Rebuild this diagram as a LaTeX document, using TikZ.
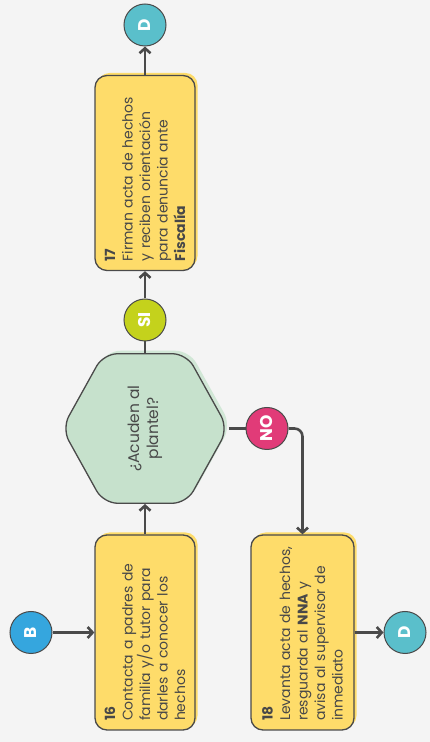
\documentclass[tikz,border=0pt]{standalone}
\usepackage{fontspec}
\setmainfont{Poppins}
\usepackage{xcolor}
\usetikzlibrary{arrows.meta,shapes.geometric,shadows}
\definecolor{bg}{HTML}{F4F4F4}
\definecolor{linegray}{HTML}{4A4A4A}
\definecolor{txtgray}{HTML}{484848}
\definecolor{boxyellow}{HTML}{FEDC6A}
\definecolor{hexgreen}{HTML}{C6E1CC}
\definecolor{cblue}{HTML}{35A6DE}
\definecolor{cteal}{HTML}{5ABFCB}
\definecolor{clime}{HTML}{C4D21C}
\definecolor{cpink}{HTML}{E13B78}
\begin{document}
\begin{tikzpicture}[x=1pt,y=1pt,
        box/.style = {draw=linegray,line width=1.3pt,fill=boxyellow,rounded corners=12pt,rotate=90,
            minimum height=100pt,text width=177pt,inner xsep=9pt,align=left,text=txtgray,
            font=\fontsize{14}{17.5}\selectfont,
            general shadow={fill=boxyellow,shadow xshift=2.5pt,shadow yshift=2.5pt}},
        hexa/.style = {draw=linegray,line width=1.3pt,fill=hexgreen,regular polygon,
            regular polygon sides=6,minimum size=166pt,rounded corners=14pt,yscale=1.04,
            general shadow={fill=hexgreen!80!white,shadow xshift=3pt,shadow yshift=3pt}},
        circ/.style = {circle,draw=linegray,line width=1pt,minimum size=42pt,inner sep=0pt,
            rotate=90,text=white,font=\bfseries\fontsize{17}{17}\selectfont},
        arr/.style = {draw=linegray,line width=2.6pt,-{Straight Barb[length=5pt,width=11pt]}},
        lin/.style = {draw=linegray,line width=2.6pt}
        ]

        %Hintergrund
        \fill[bg] (0,0) rectangle (430,742);
        \useasboundingbox (0,0) rectangle (430,742);

        %Kreise
        \node[circ,fill=cblue] (bc) at (31,109.5) {B};
        \node[circ,fill=cteal] (dbot) at (405,109.5) {D};
        \node[circ,fill=cpink] (no) at (267,313.5) {NO};
        \node[circ,fill=clime] (si) at (145,422) {SI};
        \node[circ,fill=cteal] (dtop) at (145,717) {D};

        %Aktivitaeten
        \node[box] (b16) at (145,109.5) {\textbf{16}\\Contacta a padres de\\familia y/o tutor para\\darles a conocer los\\hechos};
        \node[box,minimum height=103pt] (b18) at (302.5,109.5) {\textbf{18}\\Levanta acta de hechos,\\resguarda al \textbf{NNA} y\\avisa al supervisor de\\inmediato};
        \node[box] (b17) at (145,569) {\textbf{17}\\Firman acta de hechos\\y reciben orientación\\para denuncia ante\\\textbf{Fiscalía}};

        %Entscheidung
        \node[hexa] (hex) at (145,313.5) {};
        \node[rotate=90,align=center,text=txtgray,font=\fontsize{15.5}{19}\selectfont] (hexlbl) at (hex) {¿Acuden al\\plantel?};

        %Verbindungen
        \draw[arr] (bc) -- (b16);
        \draw[arr] (b16) -- (hex);
        \draw[lin] (hex) -- (si);
        \draw[arr] (si) -- (b17);
        \draw[arr] (b17) -- (dtop);
        \draw[lin] (hex) -- (no);
        \draw[arr,rounded corners=8pt] (no) -| (b18);
        \draw[arr] (b18) -- (dbot);

\end{tikzpicture}
\end{document}
